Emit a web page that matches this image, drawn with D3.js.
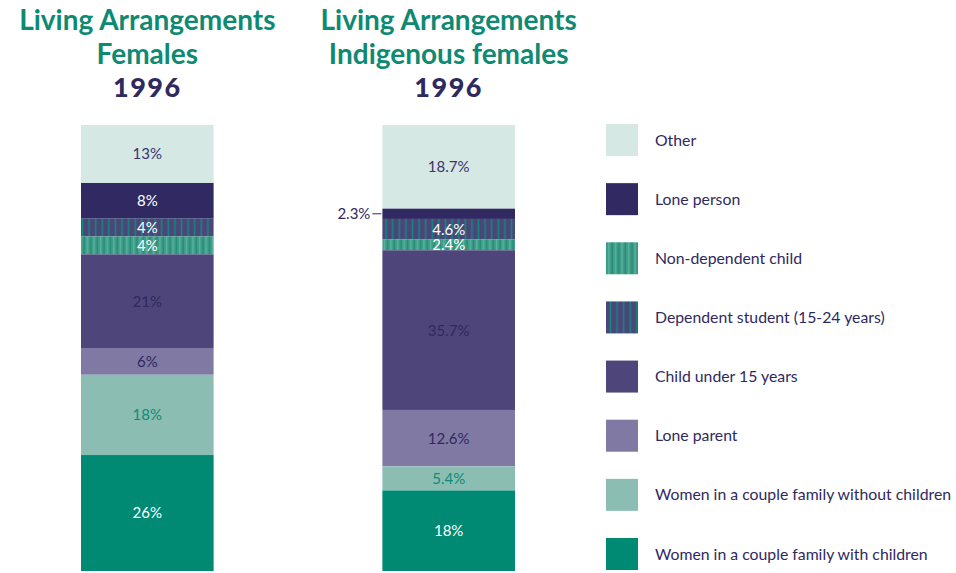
<!DOCTYPE html>
<html><head><meta charset="utf-8">
<script src="https://cdn.jsdelivr.net/npm/d3@7"></script>
<style>body{margin:0;background:#fff}svg{display:block}text{font-family:Lato,"Open Sans",sans-serif}</style>
</head><body><svg id="c" width="956" height="573"></svg>
<script>
const categories = ["Other","Lone person","Dependent student (15-24 years)","Non-dependent child","Child under 15 years","Lone parent","Women in a couple family without children","Women in a couple family with children"];
const legendOrder = ["Other","Lone person","Non-dependent child","Dependent student (15-24 years)","Child under 15 years","Lone parent","Women in a couple family without children","Women in a couple family with children"];
const femalesValues = [13, 8, 4, 4, 21, 6, 18, 26];
const femalesLabels = ["13%","8%","4%","4%","21%","6%","18%","26%"];
const indigValues = [18.7, 2.3, 4.6, 2.4, 35.7, 12.6, 5.4, 18];
const indigLabels = ["18.7%","2.3%","4.6%","2.4%","35.7%","12.6%","5.4%","18%"];
const titles = [["Living Arrangements","Females","1996"],["Living Arrangements","Indigenous females","1996"]];

const fills = {"Other":"#d6e8e4","Lone person":"#312a62","Dependent student (15-24 years)":"url(#pDep)","Non-dependent child":"url(#pNon)","Child under 15 years":"#4e467b","Lone parent":"#7f79a3","Women in a couple family without children":"#8bbdb3","Women in a couple family with children":"#008a74"};
const labelColors = {"Other":"#3a3370","Lone person":"#ffffff","Dependent student (15-24 years)":"#ffffff","Non-dependent child":"#ffffff","Child under 15 years":"#2f2960","Lone parent":"#2f2960","Women in a couple family without children":"#0e8c75","Women in a couple family with children":"#ffffff"};

const svg = d3.select("#c");
const defs = svg.append("defs");
const pd = defs.append("pattern").attr("id","pDep").attr("patternUnits","userSpaceOnUse").attr("width",6.6).attr("height",10);
pd.append("rect").attr("width",6.6).attr("height",10).attr("fill","#4c447a");
pd.append("rect").attr("x",2.5).attr("width",1.6).attr("height",10).attr("fill","#108a78");
const pn = defs.append("pattern").attr("id","pNon").attr("patternUnits","userSpaceOnUse").attr("width",6.6).attr("height",10);
pn.append("rect").attr("width",6.6).attr("height",10).attr("fill","#3f9d88");
pn.append("rect").attr("x",1).attr("width",1.2).attr("height",10).attr("fill","#5fb2a0");
pn.append("rect").attr("x",4.3).attr("width",1.2).attr("height",10).attr("fill","#1c8a76");

const x = d3.scaleBand().domain(["Females","Indigenous"]).range([81, 515]).paddingInner(0.56).paddingOuter(0);
const bars = [{key:"Females",values:femalesValues,labels:femalesLabels},{key:"Indigenous",values:indigValues,labels:indigLabels}];

bars.forEach((b,bi)=>{
  const total = d3.sum(b.values);
  const y = d3.scaleLinear().domain([0,total]).range([125,571]);
  const cum = [0, ...d3.cumsum(b.values)];
  const g = svg.append("g");
  const x0 = x(b.key), w = x.bandwidth();
  categories.forEach((c,i)=>{
    const y0 = y(cum[i]), y1 = y(cum[i+1]);
    g.append("rect").attr("x",x0).attr("y",y0).attr("width",w).attr("height",y1-y0).attr("fill",fills[c]);
  });
  categories.forEach((c,i)=>{
    const y0 = y(cum[i]), y1 = y(cum[i+1]);
    const cy = (y0+y1)/2;
    if (b.key==="Indigenous" && c==="Lone person") {
      g.append("line").attr("x1",x0-10).attr("x2",x0-1).attr("y1",cy).attr("y2",cy).attr("stroke","#2f2960").attr("stroke-width",1);
      g.append("text").attr("x",x0-12).attr("y",cy).attr("dy","0.35em").attr("text-anchor","end").attr("font-size",15).attr("fill","#2f2960").text(b.labels[i]);
    } else {
      g.append("text").attr("x",x0+w/2).attr("y",cy).attr("dy","0.36em").attr("text-anchor","middle").attr("font-size",15).attr("fill",labelColors[c]).text(b.labels[i]);
    }
  });
  const t = titles[bi];
  const cx = x0 + w/2;
  svg.append("text").attr("x",cx).attr("y",30).attr("text-anchor","middle").attr("font-size",28).attr("font-weight","bold").attr("fill","#0e8a73").text(t[0]);
  svg.append("text").attr("x",cx).attr("y",64).attr("text-anchor","middle").attr("font-size",28).attr("font-weight","bold").attr("fill","#0e8a73").text(t[1]);
  svg.append("text").attr("x",cx).attr("y",97).attr("text-anchor","middle").attr("font-size",27).attr("font-weight",900).attr("fill","#2e2a60").attr("letter-spacing",1.5).text(t[2]);
});

const ly = d3.scalePoint().domain(legendOrder).range([124, 538]);
const lg = svg.append("g");
legendOrder.forEach(c=>{
  lg.append("rect").attr("x",606).attr("y",ly(c)).attr("width",32).attr("height",32).attr("fill",fills[c]);
  lg.append("text").attr("x",655).attr("y",ly(c)+16).attr("dy","0.35em").attr("font-size",15.8).attr("fill","#2f2960").text(c);
});
</script></body></html>
